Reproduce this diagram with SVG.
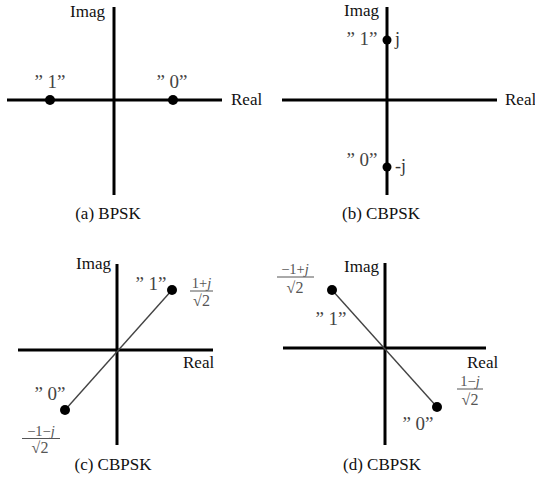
<svg xmlns="http://www.w3.org/2000/svg" width="535" height="483" viewBox="0 0 535 483">
<style>
.ax{stroke:#000;stroke-width:3;fill:none}
.dg{stroke:#444;stroke-width:1.4;fill:none}
.bar{stroke:#555;stroke-width:1}
.dot{fill:#000}
.lb{font-size:17px;fill:#111}
.q{font-size:19px;fill:#444;text-anchor:middle}
.fr{font-size:14.5px;fill:#555;text-anchor:middle}
.dn{font-size:16px;fill:#555;text-anchor:middle}
.cap{font-size:17px;fill:#111;text-anchor:middle}
</style>
<rect width="535" height="483" fill="#fff"/>
<g id="axes">
<line class="ax" x1="7" y1="100" x2="222" y2="100"/>
<line class="ax" x1="114" y1="7" x2="114" y2="195"/>
<line class="ax" x1="282" y1="100" x2="497" y2="100"/>
<line class="ax" x1="387" y1="7" x2="387" y2="195"/>
<line class="ax" x1="18" y1="350" x2="213" y2="350"/>
<line class="ax" x1="117" y1="264" x2="117" y2="445"/>
<line class="ax" x1="283" y1="348" x2="486" y2="348"/>
<line class="ax" x1="385" y1="263" x2="385" y2="445"/>
</g>
<g id="connectors">
<line class="dg" x1="65" y1="410" x2="172" y2="290"/>
<line class="dg" x1="332" y1="290" x2="437" y2="407"/>
</g>
<g font-family="'Liberation Serif', 'Times New Roman', 'DejaVu Serif', serif">
<g id="panel-a">
<text class="lb" x="70" y="17">Imag</text>
<text class="lb" x="231" y="105">Real</text>
<circle class="dot" cx="50" cy="100" r="5"/>
<circle class="dot" cx="173" cy="100" r="5"/>
<text class="q" x="50" y="88">” 1”</text>
<text class="q" x="172" y="88">” 0”</text>
<text class="cap" x="108" y="219">(a) BPSK</text>
</g>
<g id="panel-b">
<text class="lb" x="344" y="16">Imag</text>
<text class="lb" x="505" y="105">Real</text>
<circle class="dot" cx="387" cy="40" r="4.5"/>
<circle class="dot" cx="387" cy="167" r="4.5"/>
<text class="q" x="362" y="45">” 1”</text>
<text class="lb" x="395" y="45" style="font-size:18px;fill:#333">j</text>
<text class="q" x="362" y="166">” 0”</text>
<text class="lb" x="395" y="172" style="font-size:18px;fill:#333">-j</text>
<text class="cap" x="381" y="219">(b) CBPSK</text>
</g>
<g id="panel-c">
<text class="lb" x="76" y="269">Imag</text>
<text class="lb" x="183" y="368">Real</text>
<circle class="dot" cx="172" cy="290" r="5"/>
<circle class="dot" cx="65" cy="410" r="5"/>
<text class="q" x="151" y="290">” 1”</text>
<text class="q" x="50" y="400">” 0”</text>
<text class="fr" x="201.5" y="288">1+<tspan font-style="italic">j</tspan></text>
<line class="bar" x1="190" y1="291" x2="213" y2="291"/>
<text class="dn" x="201.5" y="306">√2</text>
<text class="fr" x="41" y="436">−1−<tspan font-style="italic">j</tspan></text>
<line class="bar" x1="22" y1="438.5" x2="60" y2="438.5"/>
<text class="dn" x="40" y="453">√2</text>
<text class="cap" x="113" y="470">(c) CBPSK</text>
</g>
<g id="panel-d">
<text class="lb" x="344" y="272">Imag</text>
<text class="lb" x="467" y="368">Real</text>
<circle class="dot" cx="332" cy="290" r="5"/>
<circle class="dot" cx="437" cy="407" r="5"/>
<text class="q" x="331" y="325">” 1”</text>
<text class="q" x="418" y="430">” 0”</text>
<text class="fr" x="295" y="274">−1+<tspan font-style="italic">j</tspan></text>
<line class="bar" x1="277" y1="277" x2="314" y2="277"/>
<text class="dn" x="295" y="293">√2</text>
<text class="fr" x="470" y="386">1−<tspan font-style="italic">j</tspan></text>
<line class="bar" x1="457" y1="389" x2="483" y2="389"/>
<text class="dn" x="470" y="405">√2</text>
<text class="cap" x="382" y="470">(d) CBPSK</text>
</g>
</g>
</svg>
